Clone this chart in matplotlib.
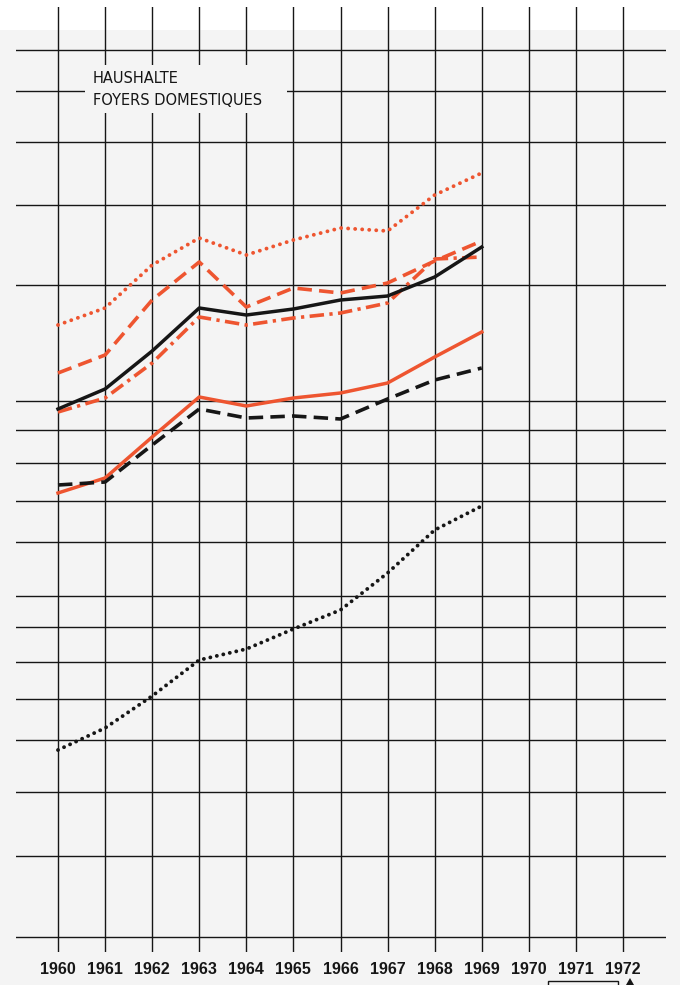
from matplotlib import pyplot as plt
from matplotlib.patches import Rectangle, Polygon
import numpy as np

# years on the x axis
years = [1960, 1961, 1962, 1963, 1964, 1965, 1966, 1967, 1968, 1969]
year_labels = ['1960', '1961', '1962', '1963', '1964', '1965', '1966',
               '1967', '1968', '1969', '1970', '1971', '1972']

# no scale printed on the original, heights are in chart units above the lowest rule
grid_levels = [0, 8.1, 14.5, 19.7, 23.8, 27.5, 31.0, 34.1, 39.5, 43.6,
               47.4, 50.7, 53.6, 65.2, 73.2, 79.5, 84.6, 88.7]

red_dotted = [61.2, 62.9, 67.2, 69.9, 68.2, 69.7, 70.9, 70.6, 74.2, 76.4]
red_dashed = [56.4, 58.2, 63.7, 67.5, 63.0, 64.9, 64.4, 65.4, 67.6, 69.6]
red_dashdot = [52.5, 53.9, 57.4, 62.0, 61.2, 61.9, 62.4, 63.4, 67.8, 68.0]
black_solid = [52.8, 54.8, 58.6, 62.9, 62.2, 62.8, 63.7, 64.1, 66.0, 69.0]
red_solid = [44.4, 45.9, 50.0, 54.0, 53.1, 53.9, 54.4, 55.4, 58.0, 60.5]
black_dashed = [45.2, 45.5, 49.2, 52.8, 51.9, 52.1, 51.8, 53.8, 55.7, 56.9]
black_dotted = [18.7, 20.9, 24.1, 27.7, 28.8, 30.8, 32.7, 36.4, 40.7, 43.1]

title_lines = ['HAUSHALTE', 'FOYERS DOMESTIQUES']

RED = '#ee5530'
INK = '#161616'

W, H = 680, 985
fig = plt.figure(figsize=(W / 100, H / 100), dpi=100, facecolor='#f4f4f4')
# white strip on top of the scan
fig.patches.append(Rectangle((0, 1 - 30 / H), 1, 30 / H, transform=fig.transFigure,
                             facecolor='white', edgecolor='none', zorder=-10))

ax = fig.add_axes([16 / W, 1 - 952 / H, 650 / W, 945 / H])
ax.set_facecolor('none')
for s in ax.spines.values():
    s.set_visible(False)

px_year = (623 - 58) / 12.0
ax.set_xlim(1960 - 42 / px_year, 1972 + 43 / px_year)
ax.set_ylim(-1.5, 93.0)

all_years = np.arange(1960, 1973)
for yr in all_years:
    ax.axvline(yr, color=INK, lw=1.0, zorder=1)
for lev in grid_levels:
    ax.axhline(lev, color=INK, lw=1.0, zorder=1)

# label box cuts the grid
ax.add_patch(Rectangle((1960 + 27 / px_year, 82.4), 202 / px_year, 4.8,
                       facecolor='#f4f4f4', edgecolor='none', zorder=2))
ax.text(1960 + 35 / px_year, 85.4, title_lines[0], fontsize=10.5, family='DejaVu Sans',
        color=INK, va='baseline', ha='left', zorder=3)
ax.text(1960 + 35 / px_year, 83.2, title_lines[1], fontsize=10.5, family='DejaVu Sans',
        color=INK, va='baseline', ha='left', zorder=3)

ax.plot(years, red_dotted, color=RED, lw=2.8, linestyle=(0, (0.01, 1.8)),
        dash_capstyle='round', zorder=4)
ax.plot(years, red_dashed, color=RED, lw=2.6, linestyle=(0, (4, 2)), zorder=4)
ax.plot(years, red_dashdot, color=RED, lw=2.6, linestyle=(0, (4, 1.5, 0.9, 1.5)), zorder=4)
ax.plot(years, black_solid, color=INK, lw=2.5, zorder=5)
ax.plot(years, red_solid, color=RED, lw=2.5, zorder=4)
ax.plot(years, black_dashed, color=INK, lw=2.6, linestyle=(0, (4, 2)), zorder=5)
ax.plot(years, black_dotted, color=INK, lw=2.8, linestyle=(0, (0.01, 1.7)),
        dash_capstyle='round', zorder=5)

ax.set_yticks([])
ax.set_xticks(all_years)
ax.set_xticklabels(year_labels, fontsize=11.5, fontweight='bold', family='Liberation Sans')
ax.tick_params(axis='x', length=0, pad=7, colors=INK)

# cut off box and marker at the lower edge of the scan
fig.patches.append(Rectangle((548 / W, -0.01), 70 / W, 0.01 + 4 / H, transform=fig.transFigure,
                             facecolor='none', edgecolor=INK, lw=1.0))
fig.patches.append(Polygon([(626 / W, 0), (634 / W, 0), (630 / W, 7 / H)], closed=True,
                           transform=fig.transFigure, facecolor=INK, edgecolor='none'))

plt.savefig('out.png', dpi=100, facecolor=fig.get_facecolor())
